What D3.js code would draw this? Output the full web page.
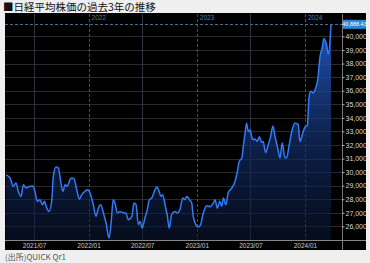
<!DOCTYPE html>
<html>
<head>
<meta charset="utf-8">
<script src="https://d3js.org/d3.v7.min.js"></script>
<style>
  body { margin:0; background:#efefef; }
  svg { display:block; }
</style>
</head>
<body>
<div id="container"></div>
<script>
const dates = ['2021-03-29','2021-04-11','2021-04-22','2021-05-01','2021-05-09','2021-05-18','2021-05-26','2021-06-04','2021-06-15','2021-06-27',
  '2021-07-04','2021-07-12','2021-07-21','2021-07-30','2021-08-05','2021-08-13','2021-08-21','2021-08-30','2021-09-04','2021-09-13',
  '2021-09-21','2021-09-29','2021-10-06','2021-10-14','2021-10-21','2021-10-30','2021-11-05','2021-11-13','2021-11-22','2021-12-01',
  '2021-12-09','2021-12-20','2021-12-28','2022-01-06','2022-01-17','2022-01-26','2022-02-03','2022-02-11','2022-02-20','2022-03-01',
  '2022-03-11','2022-03-18','2022-03-25','2022-03-31','2022-04-08','2022-04-17','2022-04-28','2022-05-07','2022-05-15','2022-05-27',
  '2022-06-03','2022-06-10','2022-06-18','2022-06-24','2022-07-01','2022-07-10','2022-07-18','2022-07-25','2022-08-02','2022-08-13',
  '2022-08-19','2022-08-27','2022-09-02','2022-09-08','2022-09-16','2022-09-24','2022-09-30','2022-10-08','2022-10-20','2022-10-27',
  '2022-11-05','2022-11-15','2022-11-22','2022-11-28','2022-12-07','2022-12-15','2022-12-20','2022-12-29','2023-01-06','2023-01-14',
  '2023-01-23','2023-02-04','2023-02-15','2023-02-26','2023-03-04','2023-03-11','2023-03-20','2023-03-26','2023-04-01','2023-04-09',
  '2023-04-17','2023-04-29','2023-05-10','2023-05-18','2023-05-24','2023-06-02','2023-06-07','2023-06-13','2023-06-18','2023-06-24',
  '2023-06-30','2023-07-05','2023-07-11','2023-07-16','2023-07-24','2023-07-31','2023-08-08','2023-08-13','2023-08-21','2023-08-30',
  '2023-09-07','2023-09-15','2023-09-22','2023-10-01','2023-10-09','2023-10-16','2023-10-26','2023-11-01','2023-11-08','2023-11-19',
  '2023-11-28','2023-12-09','2023-12-15','2023-12-23','2024-01-01','2024-01-09','2024-01-15','2024-01-21','2024-01-29','2024-02-04',
  '2024-02-13','2024-02-21','2024-02-28','2024-03-05','2024-03-14','2024-03-20','2024-03-29'];

const closes = [29800,29570,28950,29200,28580,28210,29070,28830,28950,28970,
  28580,27840,27970,27600,27850,27350,27100,27970,29680,30380,
  30300,29310,28580,29070,28950,29440,29570,29500,28700,28020,
  28340,28580,28700,28460,27600,26740,27360,27600,26990,26250,
  25150,26250,27970,27720,26990,27100,27000,26990,26500,26740,
  27720,27600,26130,26370,25880,26620,27230,27970,28090,28700,
  28900,28580,28210,28340,27600,26740,25880,26860,27100,26990,
  27230,28090,27970,28210,27970,27720,26740,26130,25950,26130,
  26990,27520,27450,27720,27970,27350,27850,27470,28090,27600,
  28460,28830,29310,30050,30780,31040,31890,32870,33600,33000,
  33100,32630,32380,32450,32260,32600,32200,32260,31450,32000,
  32600,33400,32630,31780,31040,32140,31040,31100,31890,33120,
  33620,33500,32260,32750,33320,33420,35580,35950,35830,36070,
  36800,38530,39150,39850,39390,38700,40888.43];

const yTicks = [26000,27000,28000,29000,30000,31000,32000,33000,34000,35000,36000,37000,38000,39000,40000];
const halfYearTicks = ['2021-07-01','2022-01-01','2022-07-01','2023-01-01','2023-07-01','2024-01-01'];
const yearTicks = ['2022-01-01','2023-01-01','2024-01-01'];
const lastValue = 40888.43;

const parse = d3.timeParse('%Y-%m-%d');
const data = dates.map((d,i)=>({date: parse(d), v: closes[i]}));

const w = 370, h = 263;
const pLeft = 5, pRight = 342, pTop = 14, pBottom = 240;

const svg = d3.select('#container').append('svg')
  .attr('width', w).attr('height', h);

svg.append('rect').attr('width', w).attr('height', h).attr('fill', '#efefef');

// title
svg.append('text')
  .attr('x', 3).attr('y', 11)
  .attr('font-family', '"Noto Sans CJK JP", sans-serif')
  .attr('font-size', 10.5).attr('fill', '#111')
  .text('■日経平均株価の過去3年の推移');

// black panel
svg.append('rect')
  .attr('x', 5).attr('y', 13).attr('width', 361).attr('height', 237)
  .attr('fill', '#000');

const x = d3.scaleTime()
  .domain([parse('2021-03-25'), parse('2024-05-05')])
  .range([pLeft, pRight]);
const y = d3.scaleLinear()
  .domain([25000, 41650])
  .range([pBottom, pTop]);

// horizontal grid
svg.append('g').selectAll('line')
  .data(yTicks).enter().append('line')
  .attr('x1', pLeft).attr('x2', pRight)
  .attr('y1', d=>Math.round(y(d))+0.5).attr('y2', d=>Math.round(y(d))+0.5)
  .attr('stroke', '#2b2b2b').attr('stroke-width', 1);

// vertical grid
svg.append('g').selectAll('line')
  .data(halfYearTicks.map(parse)).enter().append('line')
  .attr('x1', d=>Math.round(x(d))+0.5).attr('x2', d=>Math.round(x(d))+0.5)
  .attr('y1', pTop).attr('y2', pBottom)
  .attr('stroke', d=>d.getMonth()===0 ? '#34527a' : '#2e3440')
  .attr('stroke-dasharray', d=>d.getMonth()===0 ? '3,2' : null)
  .attr('stroke-width', 1);

// year labels at top
svg.append('g').selectAll('text')
  .data(yearTicks.map(parse)).enter().append('text')
  .attr('x', d=>x(d)+3).attr('y', 20)
  .attr('font-family', '"Liberation Sans", Arial, sans-serif')
  .attr('font-size', 6.5).attr('fill', '#3f7fc4')
  .text(d=>d3.timeFormat('%Y')(d));

// gradient fill
const grad = svg.append('defs').append('linearGradient')
  .attr('id', 'fillGrad').attr('gradientUnits', 'userSpaceOnUse')
  .attr('x1', 0).attr('x2', 0).attr('y1', pTop).attr('y2', pBottom);
grad.append('stop').attr('offset', '0%').attr('stop-color', '#2a63d8').attr('stop-opacity', 0.9);
grad.append('stop').attr('offset', '55%').attr('stop-color', '#13306e').attr('stop-opacity', 0.7);
grad.append('stop').attr('offset', '100%').attr('stop-color', '#0a1634').attr('stop-opacity', 0.55);

const area = d3.area()
  .x(d=>x(d.date)).y0(pBottom).y1(d=>y(d.v))
  .curve(d3.curveMonotoneX);
svg.append('path').datum(data)
  .attr('d', area).attr('fill', 'url(#fillGrad)');

// last value dashed line
svg.append('line')
  .attr('x1', pLeft).attr('x2', pRight)
  .attr('y1', Math.round(y(lastValue))+0.5).attr('y2', Math.round(y(lastValue))+0.5)
  .attr('stroke', '#4a6a90').attr('stroke-dasharray', '3,2');

const line = d3.line()
  .x(d=>x(d.date)).y(d=>y(d.v))
  .curve(d3.curveMonotoneX);
svg.append('path').datum(data)
  .attr('d', line).attr('fill', 'none')
  .attr('stroke', '#2f7cf6').attr('stroke-width', 1.5)
  .attr('stroke-linejoin', 'round');

// plot border right + bottom axis line
svg.append('line')
  .attr('x1', pRight+0.5).attr('x2', pRight+0.5).attr('y1', pTop).attr('y2', 250)
  .attr('stroke', '#777');
svg.append('line')
  .attr('x1', pLeft).attr('x2', 366).attr('y1', pBottom+0.5).attr('y2', pBottom+0.5)
  .attr('stroke', '#888');

// right axis
const yAxis = d3.axisRight(y).tickValues(yTicks).tickSize(2).tickPadding(1)
  .tickFormat(d3.format(','));
const ya = svg.append('g')
  .attr('transform', 'translate(' + (pRight+0.5) + ',0)')
  .call(yAxis);
ya.select('.domain').remove();
ya.selectAll('line').attr('stroke', '#bbb');
ya.selectAll('text')
  .attr('font-family', '"Liberation Sans", Arial, sans-serif')
  .attr('font-size', 7).attr('fill', '#d8d8d8');

// last value label
svg.append('rect')
  .attr('x', pRight+1).attr('y', y(lastValue)-4.5).attr('width', 23).attr('height', 9)
  .attr('fill', '#2a88d6');
svg.append('text')
  .attr('x', pRight+12.5).attr('y', y(lastValue)+2)
  .attr('text-anchor', 'middle')
  .attr('font-family', '"Liberation Sans", Arial, sans-serif')
  .attr('font-size', 5.5).attr('fill', '#fff')
  .text(d3.format(',.2f')(lastValue));

// bottom axis
const xAxis = d3.axisBottom(x).tickValues(halfYearTicks.map(parse)).tickSize(0).tickPadding(3)
  .tickFormat(d3.timeFormat('%Y/%m'));
const xa = svg.append('g')
  .attr('transform', 'translate(0,' + pBottom + ')')
  .call(xAxis);
xa.select('.domain').remove();
xa.selectAll('text')
  .attr('font-family', '"Liberation Sans", Arial, sans-serif')
  .attr('font-size', 6.5).attr('fill', '#ccc');

// source
svg.append('text')
  .attr('x', 5).attr('y', 260)
  .attr('font-family', '"Noto Sans CJK JP", sans-serif')
  .attr('font-size', 8).attr('fill', '#555')
  .text('(出所)QUICK Qr1');
</script>
</body>
</html>
